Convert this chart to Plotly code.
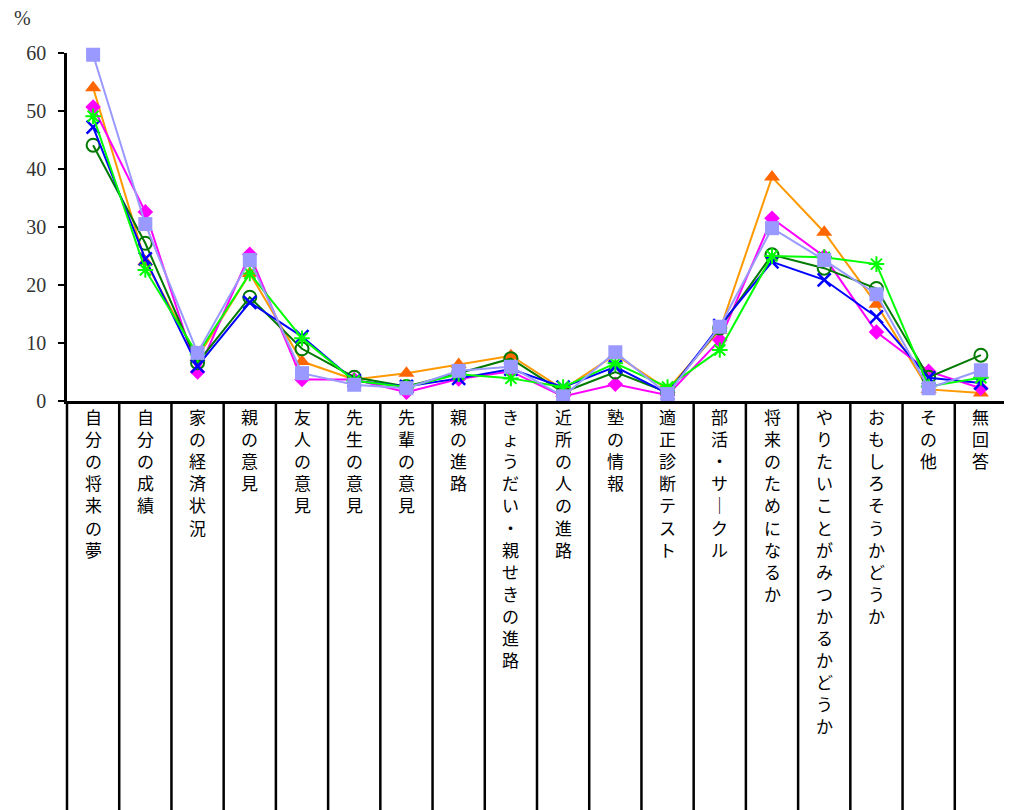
import plotly.graph_objects as go

categories = ["自分の将来の夢", "自分の成績", "家の経済状況", "親の意見", "友人の意見",
              "先生の意見", "先輩の意見", "親の進路", "きょうだい・親せきの進路",
              "近所の人の進路", "塾の情報", "適正診断テスト", "部活・サークル",
              "将来のためになるか", "やりたいことがみつかるかどうか", "おもしろそうかどうか",
              "その他", "無回答"]

s_orange = [54.0, 24.0, 7.5, 22.0, 6.8, 3.7, 4.8, 6.3, 7.8, 2.0, 8.0, 2.0, 12.2, 38.6, 29.1, 16.7, 2.0, 1.4]
s_magenta = [50.7, 32.6, 5.0, 25.3, 3.7, 3.7, 1.5, 3.8, 5.1, 0.8, 2.9, 1.0, 10.5, 31.5, 24.9, 11.9, 5.1, 2.2]
s_green = [44.1, 27.2, 6.6, 17.9, 9.0, 4.1, 2.5, 4.8, 7.3, 1.5, 5.0, 1.5, 12.6, 25.2, 22.9, 19.4, 4.1, 7.9]
s_blue = [47.2, 24.5, 6.0, 17.0, 11.1, 3.5, 2.5, 3.9, 5.5, 2.4, 5.9, 1.3, 13.0, 24.0, 20.9, 14.5, 4.0, 3.1]
s_lime = [49.1, 22.6, 8.0, 22.0, 10.8, 3.5, 2.4, 4.6, 3.9, 2.4, 6.5, 2.4, 8.8, 25.0, 24.8, 23.6, 2.5, 4.0]
s_lavender = [59.7, 30.5, 8.3, 24.3, 4.8, 2.8, 2.2, 5.2, 5.9, 0.8, 8.4, 1.2, 12.8, 29.8, 24.3, 18.4, 2.2, 5.3]

yticks = [0, 10, 20, 30, 40, 50, 60]

series = [
    (s_orange, "#FF9900", dict(symbol="triangle-up", size=14, color="#FF6600")),
    (s_magenta, "#FF00FF", dict(symbol="diamond", size=12, color="#FF00FF")),
    (s_green, "#007A00", dict(symbol="circle-open", size=13, color="#007A00", line=dict(width=2, color="#007A00"))),
    (s_blue, "#0000FF", dict(symbol="x-thin-open", size=13, color="#0000FF", line=dict(width=2.5, color="#0000FF"))),
    (s_lime, "#00FF00", dict(symbol="asterisk-open", size=13, color="#00FF00", line=dict(width=2, color="#00FF00"))),
    (s_lavender, "#9999FF", dict(symbol="square", size=14, color="#9999FF")),
]

serif = "Liberation Serif, DejaVu Serif, Times New Roman, serif"

x = list(range(len(categories)))
fig = go.Figure()
for vals, lc, mk in series:
    fig.add_trace(go.Scatter(x=x, y=vals, mode="lines+markers",
                             line=dict(color=lc, width=2), marker=mk,
                             cliponaxis=False, showlegend=False))

# page has an 8px body margin, so the figure is 8px smaller than the window
W, H = 1004, 802
ml, mr, mt, mb = 59, 5, 45, 409
plot_h = H - mt - mb
plot_w = W - ml - mr
n = len(categories)

shapes = []
for i in range(n + 1):
    shapes.append(dict(type="line", xref="paper", yref="paper",
                       x0=i / n, x1=i / n, y0=0, y1=-(mb + 5) / plot_h,
                       line=dict(color="black", width=2.5)))

annotations = []
for i, c in enumerate(categories):
    txt = "<br>".join(list(c.replace("ー", "｜")))
    annotations.append(dict(x=i, y=-1 / plot_h, xref="x", yref="paper",
                            xanchor="center", yanchor="top", showarrow=False,
                            text=txt, align="center",
                            font=dict(family="Noto Sans CJK JP", size=17, color="black")))
annotations.append(dict(x=(14 - ml) / plot_w, y=(H - mb - 10) / plot_h,
                        xref="paper", yref="paper", showarrow=False,
                        xanchor="center", yanchor="middle",
                        text="%", font=dict(family=serif, size=20, color="#333")))

fig.update_layout(
    width=W, height=H,
    margin=dict(l=ml, r=mr, t=mt, b=mb),
    paper_bgcolor="white", plot_bgcolor="white",
    xaxis=dict(range=[-0.5, n - 0.5], showticklabels=False, showgrid=False,
               zeroline=False, showline=True, linecolor="black", linewidth=3,
               ticks=""),
    yaxis=dict(range=[0, 60], tickvals=yticks, showgrid=False, zeroline=False,
               showline=True, linecolor="black", linewidth=2.5,
               ticks="outside", ticklen=6, tickwidth=2, tickcolor="black",
               ticklabelstandoff=8,
               tickfont=dict(family=serif, size=20, color="#333")),
    shapes=shapes,
    annotations=annotations,
)

fig.write_html("out.html")
